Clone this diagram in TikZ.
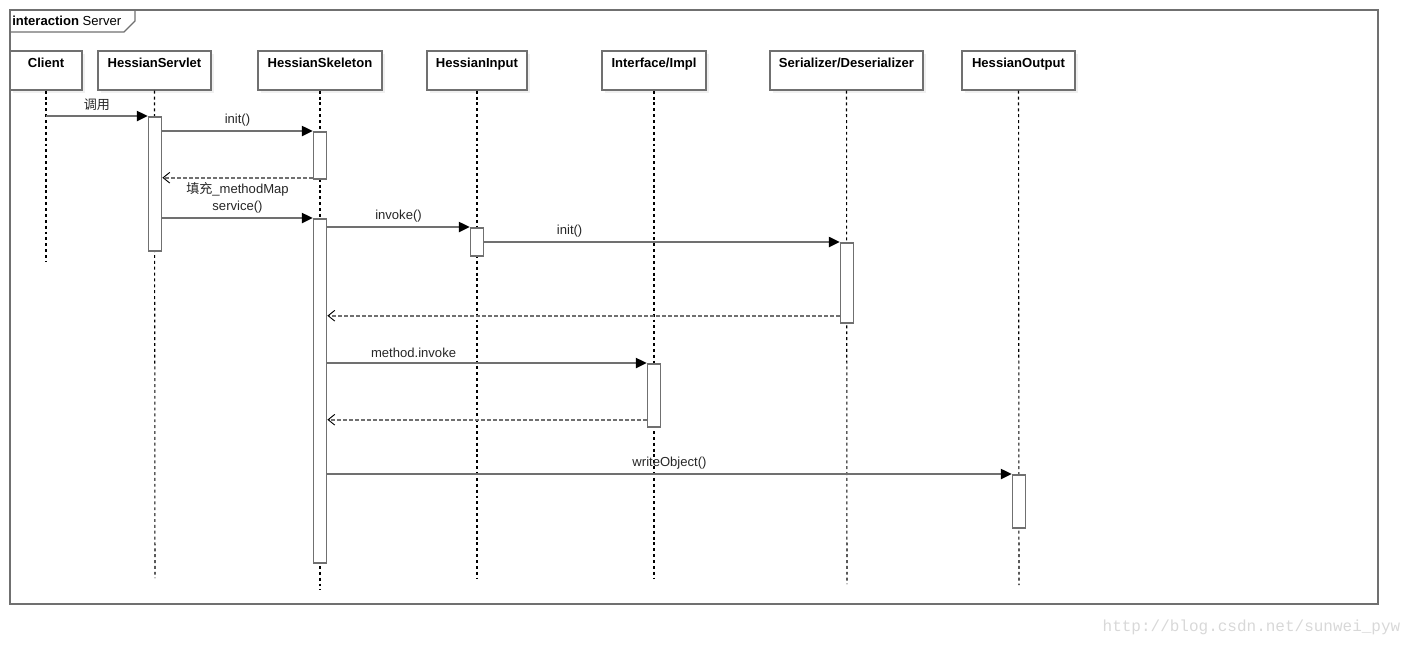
\documentclass[tikz,border=0pt]{standalone}
\usepackage{fontspec}
\setmainfont{Liberation Sans}
\newfontfamily\cjk{Noto Sans CJK SC}
\newfontfamily\wmfont{Liberation Mono}
\usetikzlibrary{arrows.meta,shadows}
\definecolor{linegray}{HTML}{707070}
\definecolor{wmgray}{HTML}{D8D8D8}

\begin{document}
\begin{tikzpicture}[
  font=\fontsize{9.8}{11}\selectfont,
  % one unit is one pixel of the drawing, rows grow downward
  x=0.75pt,
  y=-0.75pt,
  lifebox/.style={draw=linegray, line width=1.3pt, fill=white, anchor=north,
    minimum height=29.25pt, text height=8.4pt, text depth=12.85pt, inner ysep=4pt,
    font=\fontsize{9.8}{11}\selectfont\bfseries,
    drop shadow={shadow xshift=2pt, shadow yshift=-2pt, opacity=0.12}},
  lifeline/.style={dash pattern=on 2.2pt off 2.2pt, line width=0.8pt},
  actbar/.style={draw=linegray, line width=1.3pt, fill=white, anchor=north,
    minimum width=9.75pt, inner sep=0pt},
  msg/.style={draw=linegray, line width=1.4pt, -{Triangle[length=8pt,width=7.5pt,black]}},
  reply/.style={draw=linegray, line width=1.2pt, dash pattern=on 2.5pt off 2pt,
    -{Straight Barb[length=5pt,width=8pt,line width=0.7pt,black]}},
  lbl/.style={text=black!85, inner sep=2pt}
]
\useasboundingbox (0,0) rectangle (1418,644);

% 1) Frame with its title tab
\draw[linegray, line width=1.3pt] (10,10) rectangle (1378,604);
\draw[linegray, line width=1pt] (10,32) -- (124,32) -- (135,21) -- (135,10);
\node[anchor=west, inner sep=0pt] (title) at (12,21) {\textbf{interaction} Server};

% 2) Participants (heads)
\node[lifebox, minimum width=54pt]    (cl) at (46,50)   {Client};
\node[lifebox, minimum width=84.75pt] (sv) at (154.5,50) {HessianServlet};
\node[lifebox, minimum width=93pt]    (sk) at (320,50)  {HessianSkeleton};
\node[lifebox, minimum width=75pt]    (in) at (477,50)  {HessianInput};
\node[lifebox, minimum width=78pt]    (if) at (654,50)  {Interface/Impl};
\node[lifebox, minimum width=114.75pt] (se) at (846.5,50) {Serializer/Deserializer};
\node[lifebox, minimum width=84.75pt] (ou) at (1018.5,50) {HessianOutput};

% 3) Lifelines (end points)
\coordinate (cl-end) at (46,262);
\coordinate (sv-end) at (155,578);
\coordinate (sk-end) at (320,590);
\coordinate (in-end) at (477,578);
\coordinate (if-end) at (654,578);
\coordinate (se-end) at (847,584);
\coordinate (ou-end) at (1019,585);
\foreach \p in {cl,sv,sk,in,if,se,ou}
  \draw[lifeline] (\p.south) -- (\p-end);

% 4) Activation bars
\node[actbar, minimum height=100.5pt] (sv1) at (155,116) {};
\node[actbar, minimum height=35.25pt] (sk1) at (320,131) {};
\node[actbar, minimum height=258pt]   (sk2) at (320,218) {};
\node[actbar, minimum height=21pt]    (in1) at (477,227) {};
\node[actbar, minimum height=60pt]    (se1) at (847,242) {};
\node[actbar, minimum height=47.25pt] (if1) at (654,363) {};
\node[actbar, minimum height=39.75pt] (ou1) at (1019,474) {};

% return points, a little above the bar ends
\coordinate (sk1-ret) at ([yshift=1.5pt]sk1.south west);
\coordinate (se1-ret) at ([yshift=6pt]se1.south west);
\coordinate (if1-ret) at ([yshift=6pt]if1.south west);

% 5) Messages
\draw[msg] (cl.south |- sv1.north) -- (sv1.north west)
  node[lbl, midway, above=1pt] {\cjk 调用};
\draw[msg] (sv1.east |- sk1.north) -- (sk1.north west)
  node[lbl, midway, above=1pt] {init()};
\draw[reply] (sk1-ret) -- (sv1.east |- sk1-ret)
  node[lbl, midway, below=1pt] {{\cjk 填充}\_methodMap};
\draw[msg] (sv1.east |- sk2.north) -- (sk2.north west)
  node[lbl, midway, above=1pt] {service()};
\draw[msg] (sk2.east |- in1.north) -- (in1.north west)
  node[lbl, midway, above=1pt] {invoke()};
\draw[msg] (in1.east |- se1.north) -- (se1.north west)
  node[lbl, pos=0.24, above=1pt] {init()};
\draw[reply] (se1-ret) -- (sk2.east |- se1-ret);
\draw[msg] (sk2.east |- if1.north) -- (if1.north west)
  node[lbl, pos=0.27, above=1pt] {method.invoke};
\draw[reply] (if1-ret) -- (sk2.east |- if1-ret);
\draw[msg] (sk2.east |- ou1.north) -- (ou1.north west)
  node[lbl, midway, above=1pt] {writeObject()};

% 6) Watermark
\node[anchor=base east, text=wmgray, font=\wmfont\fontsize{12}{14}\selectfont] (wm) at (1405,631)
  {http://blog.csdn.net/sunwei\_pyw};

\end{tikzpicture}
\end{document}
